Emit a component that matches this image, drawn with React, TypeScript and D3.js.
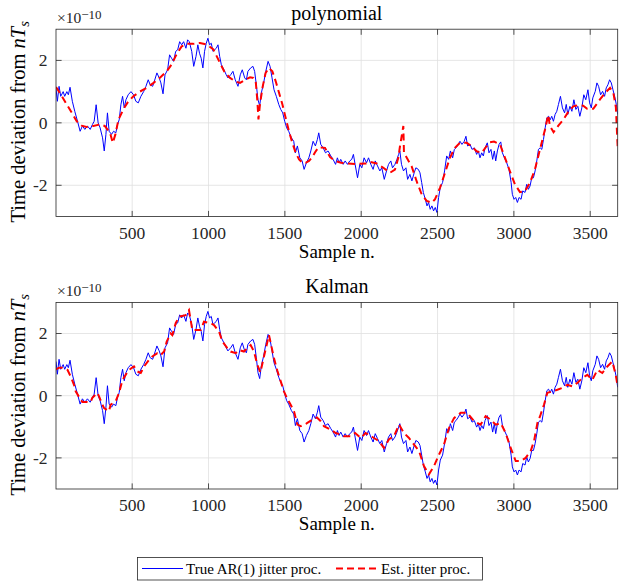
import React from 'react';
import * as d3 from 'd3';

// true AR(1) jitter process, [sample, value x1e-10]
const TRUE_JITTER: [number, number][] = [
  [1,1.1],[10,0.69],[21,1.17],[32,0.85],[48,1.0],[58,0.85],[72,1.0],[82,0.9],[93,1.14],[108,0.69],[124,0.37],[142,0.05],[159,-0.27],[174,-0.1],[190,-0.21],[207,-0.1],[225,-0.21],[240,-0.05],[251,0.05],[264,0.58],[277,0],[290,-0.16],[306,-0.48],[317,-0.9],[328,-0.37],[338,0.32],[349,-0.27],[365,-0.37],[378,-0.27],[393,-0.32],[404,-0.05],[415,0.1],[426,0.58],[437,0.85],[448,0.48],[459,0.74],[474,0.9],[492,1.0],[509,0.9],[524,0.69],[540,0.64],[557,0.85],[575,1.0],[590,1.17],[605,1.38],[618,1.22],[634,1.17],[645,1.33],[662,1.6],[677,1.44],[688,1.28],[702,0.93],[715,1.54],[732,1.7],[745,2.18],[758,2.07],[771,1.97],[785,2.29],[798,2.34],[811,2.6],[824,2.5],[837,2.6],[852,2.39],[863,2.66],[874,2.6],[890,2.29],[903,1.81],[918,2.13],[930,2.5],[941,2.23],[952,2.07],[963,1.76],[974,2.29],[985,2.55],[996,2.71],[1007,2.5],[1018,2.55],[1029,2.29],[1040,2.34],[1051,2.39],[1062,2.5],[1073,2.13],[1084,1.86],[1101,1.7],[1116,1.54],[1127,1.44],[1145,1.54],[1160,1.65],[1175,1.38],[1193,1.17],[1208,1.54],[1221,1.7],[1237,1.44],[1248,1.38],[1258,1.65],[1276,1.76],[1291,1.81],[1302,1.65],[1313,1.22],[1324,0.74],[1335,0.55],[1346,0.96],[1361,1.28],[1375,1.65],[1390,1.97],[1403,1.81],[1416,1.44],[1429,1.06],[1444,0.85],[1460,0.59],[1473,0.43],[1486,0.32],[1499,0.05],[1512,-0.16],[1525,-0.27],[1543,-0.48],[1558,-0.59],[1569,-0.96],[1582,-0.74],[1598,-1.12],[1613,-1.22],[1626,-1.49],[1641,-1.28],[1657,-1.12],[1670,-0.9],[1685,-0.59],[1700,-0.74],[1713,-0.53],[1722,-0.32],[1735,-0.69],[1751,-0.8],[1766,-0.96],[1783,-0.9],[1801,-1.06],[1816,-1.17],[1832,-1.33],[1844,-1.12],[1855,-1.28],[1866,-1.17],[1882,-1.33],[1895,-1.22],[1910,-1.33],[1925,-1.22],[1938,-1.17],[1949,-1.01],[1960,-1.33],[1976,-1.76],[1991,-1.33],[2004,-1.44],[2019,-1.12],[2035,-1.28],[2048,-1.12],[2063,-1.33],[2078,-1.49],[2092,-1.22],[2107,-1.38],[2122,-1.54],[2135,-1.44],[2151,-1.81],[2166,-1.54],[2179,-1.33],[2194,-1.22],[2205,-1.44],[2221,-1.33],[2234,-1.17],[2245,-1.01],[2253,-0.9],[2264,-1.33],[2277,-1.54],[2293,-1.44],[2304,-1.81],[2319,-1.65],[2332,-1.86],[2347,-1.6],[2358,-1.44],[2374,-1.49],[2385,-1.6],[2396,-1.91],[2407,-2.23],[2420,-2.45],[2431,-2.66],[2441,-2.55],[2452,-2.77],[2463,-2.66],[2474,-2.82],[2485,-2.71],[2496,-2.87],[2507,-2.39],[2518,-2.07],[2533,-1.91],[2546,-1.54],[2560,-1.06],[2573,-1.17],[2584,-0.9],[2599,-1.12],[2610,-0.85],[2621,-0.8],[2636,-0.69],[2647,-0.59],[2660,-0.69],[2675,-0.59],[2686,-0.43],[2697,-0.74],[2713,-0.69],[2726,-0.85],[2741,-0.8],[2756,-1.01],[2767,-0.9],[2778,-1.12],[2789,-0.96],[2800,-1.06],[2811,-0.8],[2826,-0.64],[2837,-0.96],[2850,-0.85],[2861,-1.17],[2872,-0.9],[2881,-1.22],[2892,-0.9],[2903,-0.69],[2914,-0.61],[2925,-0.96],[2938,-1.12],[2953,-1.28],[2968,-1.49],[2982,-1.91],[2990,-2.29],[3001,-2.45],[3012,-2.39],[3023,-2.55],[3034,-2.39],[3047,-2.45],[3058,-2.18],[3073,-2.23],[3084,-1.97],[3095,-2.13],[3106,-2.02],[3117,-1.76],[3128,-1.76],[3139,-1.54],[3150,-1.22],[3161,-0.85],[3172,-0.8],[3183,-0.85],[3194,-0.53],[3205,-0.16],[3216,0.16],[3227,0.21],[3238,0.1],[3248,0.21],[3259,0.05],[3270,0.27],[3281,0.37],[3292,0.59],[3305,0.85],[3318,0.48],[3332,0.32],[3343,0.59],[3353,0.27],[3367,0.53],[3380,0.37],[3393,0.74],[3406,0.43],[3419,0.53],[3432,0.21],[3445,0.48],[3458,0.9],[3471,0.74],[3485,1.06],[3496,0.64],[3507,0.48],[3517,0.8],[3533,1.01],[3544,1.28],[3555,1.17],[3568,0.9],[3581,1.01],[3594,0.85],[3605,1.12],[3616,1.22],[3627,1.38],[3638,1.28],[3649,1.06],[3660,0.85],[3671,0.59],[3680,0.27],
];

// polynomial estimate (segments joined, jumps kept)
const POLY_EST: [number, number][] = [
  [1,1.15],[40,0.85],[70,0.6],[105,0.32],[137,0.05],[170,-0.09],[200,-0.13],[245,-0.1],[290,-0.05],[320,-0.1],[355,-0.32],[373,-0.64],[390,-0.37],[410,0.1],[442,0.43],[475,0.69],[508,0.85],[550,1.0],[595,1.12],[640,1.28],[680,1.44],[726,1.65],[758,1.87],[790,2.19],[824,2.45],[857,2.53],[900,2.53],[944,2.56],[988,2.51],[1032,2.35],[1075,1.92],[1108,1.6],[1141,1.44],[1174,1.33],[1206,1.28],[1240,1.38],[1272,1.46],[1294,1.44],[1310,1.28],[1320,0.69],[1327,0.11],[1337,0.59],[1355,1.17],[1374,1.6],[1396,1.76],[1418,1.65],[1440,1.33],[1462,0.96],[1484,0.59],[1505,0.16],[1527,-0.27],[1549,-0.64],[1571,-0.96],[1593,-1.17],[1615,-1.28],[1636,-1.28],[1658,-1.22],[1680,-1.1],[1697,-0.95],[1720,-0.78],[1763,-0.8],[1796,-1.1],[1830,-1.22],[1868,-1.28],[1905,-1.3],[1960,-1.32],[2036,-1.3],[2057,-1.25],[2101,-1.3],[2145,-1.44],[2188,-1.6],[2221,-1.5],[2243,-1.12],[2254,-0.75],[2265,-0.43],[2276,-0.1],[2280,-0.96],[2330,-1.39],[2363,-1.87],[2396,-2.29],[2429,-2.5],[2461,-2.56],[2483,-2.45],[2516,-2.08],[2549,-1.6],[2581,-1.12],[2614,-0.8],[2647,-0.64],[2691,-0.64],[2723,-0.75],[2756,-0.91],[2789,-0.96],[2821,-0.75],[2843,-0.62],[2870,-0.6],[2909,-0.69],[2942,-1.12],[2974,-1.55],[3007,-1.97],[3040,-2.22],[3072,-2.19],[3105,-1.92],[3138,-1.49],[3171,-0.85],[3204,-0.21],[3225,0.25],[3236,-0.1],[3260,-0.3],[3290,-0.1],[3324,0.1],[3356,0.35],[3389,0.53],[3420,0.56],[3454,0.55],[3480,0.45],[3520,0.45],[3564,0.75],[3597,0.95],[3630,1.12],[3652,0.95],[3668,0.5],[3680,-0.8],
];

// Kalman estimate
const KALMAN_EST: [number, number][] = [
  [1,0.85],[21,0.9],[43,0.9],[76,0.83],[97,0.62],[119,0.35],[130,0.14],[163,-0.13],[174,-0.2],[228,-0.2],[239,-0.07],[272,0.09],[283,-0.02],[305,-0.29],[316,-0.4],[348,-0.5],[359,-0.29],[392,-0.18],[414,0.09],[436,0.5],[457,0.67],[479,0.83],[512,0.94],[534,0.78],[556,0.73],[578,0.94],[610,1.15],[632,1.26],[665,1.37],[687,1.31],[709,1.42],[726,1.74],[752,2.0],[763,1.95],[785,2.33],[807,2.54],[850,2.59],[872,2.75],[894,2.11],[949,2.11],[970,2.38],[1014,2.33],[1036,2.27],[1069,2.06],[1091,1.74],[1123,1.53],[1145,1.42],[1178,1.37],[1200,1.47],[1232,1.42],[1254,1.53],[1276,1.63],[1298,1.42],[1320,0.99],[1340,0.75],[1365,1.3],[1396,1.95],[1429,1.2],[1451,0.8],[1473,0.46],[1494,0.14],[1516,-0.1],[1538,-0.29],[1560,-0.5],[1582,-0.93],[1604,-0.98],[1640,-0.9],[1680,-0.77],[1710,-0.7],[1735,-0.82],[1756,-0.98],[1800,-1.09],[1833,-1.2],[1866,-1.25],[1887,-1.3],[1931,-1.3],[1960,-1.2],[1997,-1.36],[2029,-1.2],[2062,-1.3],[2084,-1.36],[2117,-1.46],[2149,-1.68],[2182,-1.4],[2215,-1.3],[2248,-0.93],[2280,-1.2],[2313,-1.36],[2346,-1.57],[2379,-1.78],[2411,-2.26],[2444,-2.53],[2477,-2.26],[2510,-1.89],[2542,-1.57],[2575,-1.04],[2608,-0.72],[2652,-0.55],[2695,-0.55],[2739,-0.82],[2782,-0.93],[2815,-0.66],[2848,-0.77],[2881,-0.93],[2914,-0.88],[2946,-1.2],[2979,-1.68],[3012,-2.1],[3045,-2.1],[3077,-2.0],[3110,-1.78],[3132,-1.46],[3154,-0.88],[3175,-0.61],[3197,-0.29],[3219,0.09],[3252,0.14],[3285,0.19],[3317,0.25],[3350,0.35],[3383,0.3],[3416,0.41],[3448,0.57],[3481,0.67],[3514,0.51],[3547,0.83],[3579,0.73],[3612,0.94],[3645,1.1],[3667,0.67],[3680,0.3],
];

const X_TICKS = [500, 1000, 1500, 2000, 2500, 3000, 3500];
const Y_TICKS = [-2, 0, 2];
const X_DOMAIN: [number, number] = [1, 3680];
const Y_DOMAIN: [number, number] = [-3, 3];

const FONT = "'Liberation Serif', 'DejaVu Serif', serif";
const AX = '#262626';
const GRID = '#e0e0e0';
const BLUE = '#0000ff';
const RED = '#ff0000';

const LEFT = 56;
const RIGHT = 617.7;

function Panel({ top, bottom, title, est, clipId }: { top: number; bottom: number; title: string; est: [number, number][]; clipId: string }) {
  const x = d3.scaleLinear().domain(X_DOMAIN).range([LEFT, RIGHT]);
  const y = d3.scaleLinear().domain(Y_DOMAIN).range([bottom, top]);
  const line = d3.line<[number, number]>().x(d => x(d[0])).y(d => y(d[1]));
  const tk = 5.6;
  return (
    <g>
      <defs>
        <clipPath id={clipId}>
          <rect x={LEFT} y={top} width={RIGHT - LEFT} height={bottom - top} />
        </clipPath>
      </defs>
      {X_TICKS.map(t => (
        <line key={'gx' + t} x1={x(t)} x2={x(t)} y1={top} y2={bottom} stroke={GRID} strokeWidth={0.8} />
      ))}
      {Y_TICKS.map(t => (
        <line key={'gy' + t} x1={LEFT} x2={RIGHT} y1={y(t)} y2={y(t)} stroke={GRID} strokeWidth={0.8} />
      ))}
      <g clipPath={`url(#${clipId})`}>
        <path d={line(TRUE_JITTER) ?? ''} fill="none" stroke={BLUE} strokeWidth={1} strokeLinejoin="round" />
        <path d={line(est) ?? ''} fill="none" stroke={RED} strokeWidth={2} strokeDasharray="7,4.5" />
      </g>
      <rect x={LEFT} y={top} width={RIGHT - LEFT} height={bottom - top} fill="none" stroke={AX} strokeWidth={0.8} />
      {X_TICKS.map(t => (
        <g key={'tx' + t}>
          <line x1={x(t)} x2={x(t)} y1={bottom} y2={bottom - tk} stroke={AX} strokeWidth={0.8} />
          <line x1={x(t)} x2={x(t)} y1={top} y2={top + tk} stroke={AX} strokeWidth={0.8} />
          <text x={x(t)} y={bottom + 22} textAnchor="middle" fontSize={17.5} fill={AX}>{t}</text>
        </g>
      ))}
      {Y_TICKS.map(t => (
        <g key={'ty' + t}>
          <line x1={LEFT} x2={LEFT + tk} y1={y(t)} y2={y(t)} stroke={AX} strokeWidth={0.8} />
          <line x1={RIGHT} x2={RIGHT - tk} y1={y(t)} y2={y(t)} stroke={AX} strokeWidth={0.8} />
          <text x={LEFT - 8.5} y={y(t) + 5.8} textAnchor="end" fontSize={17.5} fill={AX}>{t}</text>
        </g>
      ))}
      <text x={LEFT + 1} y={top - 6.5} fontSize={15.5} fill={AX}>
        ×10<tspan dy={-4} fontSize={13}>−10</tspan>
      </text>
      <text x={(LEFT + RIGHT) / 2} y={top - 9} textAnchor="middle" fontSize={20} fill="#000">{title}</text>
      <text x={(LEFT + RIGHT) / 2} y={bottom + 41} textAnchor="middle" fontSize={19} fill="#000">Sample n.</text>
      <text transform={`translate(25,${(top + bottom) / 2 - 1}) rotate(-90)`} textAnchor="middle" fontSize={20.5} fill="#000">
        Time deviation from <tspan fontStyle="italic">nT</tspan><tspan fontStyle="italic" fontSize={14.5} dy={4}>s</tspan>
      </text>
    </g>
  );
}

export default function App() {
  return (
    <svg width={619} height={581} style={{ position: 'absolute', left: 0, top: 0, background: '#fff', fontFamily: FONT }}>
      <rect width={619} height={581} fill="#fff" />
      <Panel top={29.2} bottom={216.5} title="polynomial" est={POLY_EST} clipId="clipTop" />
      <Panel top={302.4} bottom={489} title="Kalman" est={KALMAN_EST} clipId="clipBot" />
      <g>
        <rect x={137.5} y={557.5} width={345} height={22.5} fill="#fff" stroke={AX} strokeWidth={0.8} />
        <line x1={142} x2={183} y1={568.5} y2={568.5} stroke={BLUE} strokeWidth={1} />
        <text x={186} y={574} fontSize={15} fill="#000">True AR(1) jitter proc.</text>
        <line x1={336} x2={377} y1={568.5} y2={568.5} stroke={RED} strokeWidth={2} strokeDasharray="7,4" />
        <text x={381} y={574} fontSize={15} fill="#000" textAnchor="start">Est. jitter proc.</text>
      </g>
    </svg>
  );
}
